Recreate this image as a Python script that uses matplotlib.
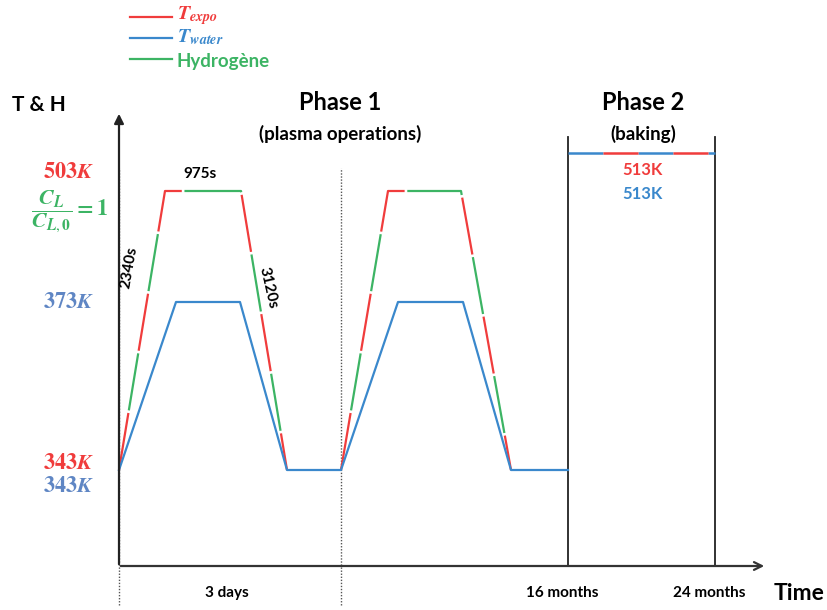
import matplotlib.pyplot as plt

plt.rcParams['mathtext.fontset'] = 'stix'
plt.rcParams['font.family'] = ['Lato', 'DejaVu Sans']

RED = '#f03c3c'
GREEN = '#3cb464'
BLUE = '#3a88cc'
SLATE = '#5f86c4'

# schematic time / level profile (arbitrary units, origin at the axes corner)
t_expo = [0, 46, 122, 168, None, 222, 269, 342, 392]
expo_lvl = [96, 375, 375, 96, None, 96, 375, 375, 96]
t_water = [0, 57, 121, 168, 222, 279, 344, 392, 449]
water_lvl = [96, 264, 264, 96, 96, 264, 264, 96, 96]
t_bake = [449, 596]
bake_lvl = [413, 413]
t_marks = [0, 222]          # dotted cycle limits
t_phase2 = [449, 596]       # 16 months, 24 months
x_labels = ['3 days', '16 months', '24 months']


def split(ts, ls):
    out, cur = [], ([], [])
    for t, l in zip(ts, ls):
        if t is None:
            out.append(cur)
            cur = ([], [])
        else:
            cur[0].append(t)
            cur[1].append(l)
    out.append(cur)
    return out


fig = plt.figure(figsize=(8.28, 6.10), dpi=100)
ax = fig.add_axes([0, 0, 1, 1])
ax.set_xlim(-119, 709)
ax.set_ylim(-44, 566)
ax.axis('off')

# axes with arrows
ax.annotate('', xy=(0, 455), xytext=(0, -1),
            arrowprops=dict(arrowstyle='-|>', color='#222222', lw=1.6, mutation_scale=14))
ax.annotate('', xy=(648, 0), xytext=(-1, 0),
            arrowprops=dict(arrowstyle='->', color='#333333', lw=1.6, mutation_scale=14))

# dotted cycle markers
for t in t_marks:
    ax.plot([t, t], [-39, 398], color='#555555', lw=1, ls=(0, (1, 1.2)))

# phase 2 box
for t in t_phase2:
    ax.plot([t, t], [0, 429], color='#222222', lw=1.3)

# T_expo / hydrogen ramps: alternating red / green dashes
A, g = 26, 1.2
for ts, ls in split(t_expo, expo_lvl):
    ax.plot(ts, ls, color=RED, lw=1.6, ls=(0, (A, A + 2 * g)), solid_capstyle='butt')
    ax.plot(ts, ls, color=GREEN, lw=1.6, ls=(A + g, (A, A + 2 * g)), solid_capstyle='butt')

# T_water
ax.plot(t_water, water_lvl, color=BLUE, lw=1.6)

# baking plateau: blue / red
ax.plot(t_bake, bake_lvl, color=BLUE, lw=1.8, ls=(0, (14, 14)))
ax.plot(t_bake, bake_lvl, color=RED, lw=1.8, ls=(14, (14, 14)))

# legend
leg = [(RED, r'$\mathbfit{T}_{\mathbfit{expo}}$', 549),
       (BLUE, r'$\mathbfit{T}_{\mathbfit{water}}$', 528),
       (GREEN, None, 507)]
for c, lab, y in leg:
    ax.plot([11, 53], [y, y], color=c, lw=1.6)
    if lab:
        ax.text(58, y + 1, lab, color=c, fontsize=14.5, va='center', ha='left')
ax.text(58, 505, 'Hydrogène', color=GREEN, fontsize=13.5, fontweight='bold', va='center')

ax.text(-107, 461, 'T & H', fontsize=15, fontweight='bold', va='center')
ax.text(221, 463, 'Phase 1', fontsize=17, fontweight='bold', ha='center', va='center')
ax.text(221, 432, '(plasma operations)', fontsize=13.5, fontweight='bold', ha='center', va='center')
ax.text(524, 463, 'Phase 2', fontsize=17, fontweight='bold', ha='center', va='center')
ax.text(524, 432, '(baking)', fontsize=13.5, fontweight='bold', ha='center', va='center')
ax.text(524, 396, '513K', color=RED, fontsize=12, fontweight='bold', ha='center', va='center')
ax.text(524, 372, '513K', color=BLUE, fontsize=12, fontweight='bold', ha='center', va='center')

# y annotations
ax.text(-51, 394, r'$\mathbf{503}\mathbfit{K}$', color=RED, fontsize=16, ha='center', va='center')
ax.text(-49, 354, r'$\dfrac{\mathbfit{C}_{\mathbfit{L}}}{\mathbfit{C}_{\mathbfit{L},\mathbf{0}}}\mathbf{=1}$',
        color=GREEN, fontsize=16, ha='center', va='center')
ax.text(-51, 264, r'$\mathbf{373}\mathbfit{K}$', color=SLATE, fontsize=16, ha='center', va='center')
ax.text(-51, 103, r'$\mathbf{343}\mathbfit{K}$', color=RED, fontsize=16, ha='center', va='center')
ax.text(-51, 80, r'$\mathbf{343}\mathbfit{K}$', color=SLATE, fontsize=16, ha='center', va='center')

# durations
ax.text(81, 392, '975s', fontsize=11, fontweight='bold', ha='center', va='center')
ax.text(10, 298, '2340s', fontsize=11, fontweight='bold', ha='center', va='center', rotation=80)
ax.text(149, 278, '3120s', fontsize=11, fontweight='bold', ha='center', va='center', rotation=-77)

# x labels
for x, lab in zip([108] + t_phase2, x_labels):
    ax.text(x - 6 if lab != '3 days' else x, -27, lab, fontsize=11, fontweight='bold', ha='center', va='center')
ax.text(680, -27, 'Time', fontsize=16.5, fontweight='bold', ha='center', va='center')

fig.savefig('out.png', dpi=100)
